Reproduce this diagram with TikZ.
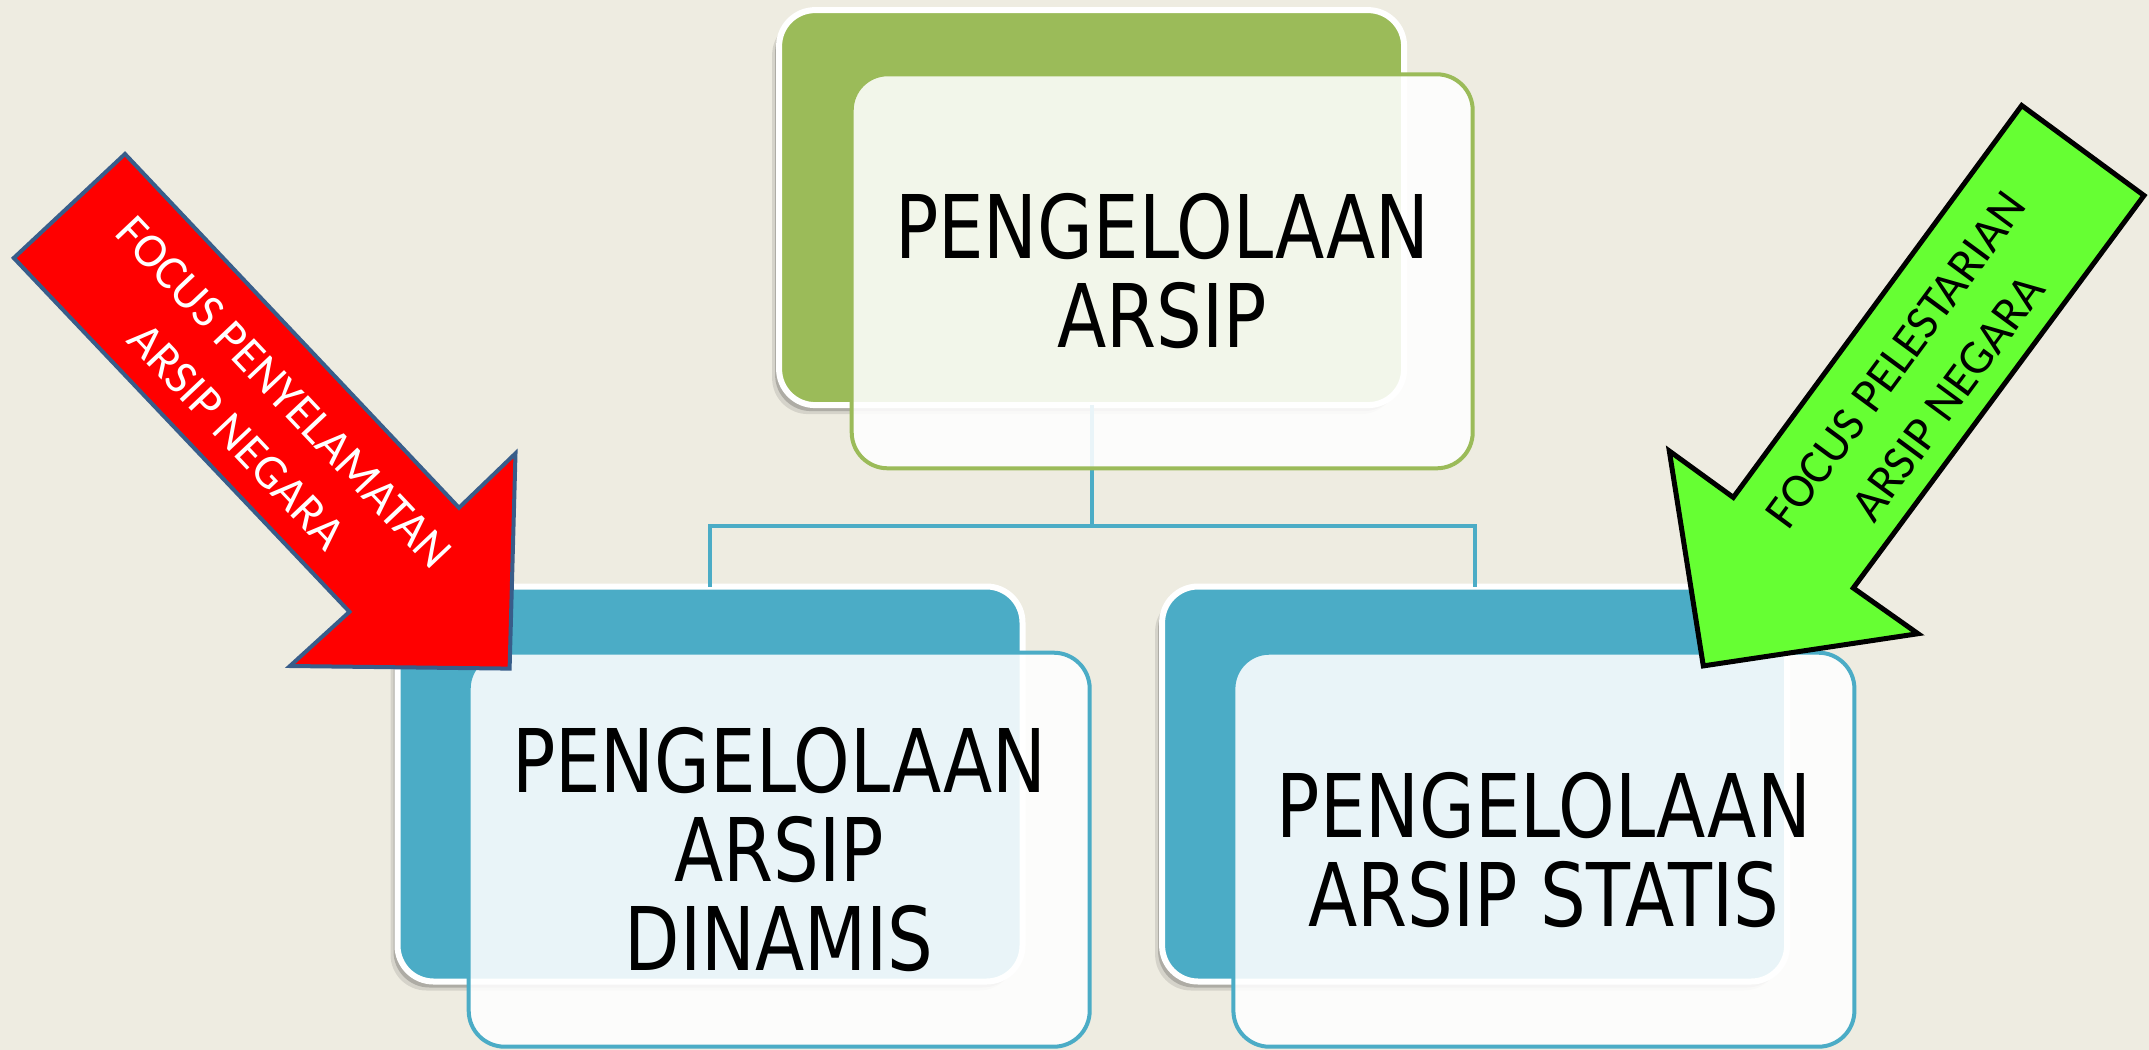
\documentclass[tikz,border=0pt]{standalone}
\usepackage{fontspec}
\usetikzlibrary{shadows}
\newfontfamily\boxfont[FakeStretch=0.82]{DejaVu Sans}
\newfontfamily\arrowfont{Carlito}
\definecolor{bg}{HTML}{EEECE1}
\definecolor{accgreen}{HTML}{9BBB59}
\definecolor{accblue}{HTML}{4BACC6}
\definecolor{redline}{HTML}{385D8A}
\definecolor{arrowgreen}{HTML}{66FF33}
\definecolor{arrowred}{HTML}{FF0000}
\begin{document}
\begin{tikzpicture}[x=0.5pt,y=-0.5pt,
  backbox/.style={rectangle, rounded corners=18pt, draw=white, line width=3pt,
    minimum width=312.5pt, minimum height=197.5pt, inner sep=0pt, outer sep=0pt,
    drop shadow={shadow xshift=-3.5pt, shadow yshift=-4.5pt, opacity=0.10, fill=black},
    drop shadow={shadow xshift=-2pt, shadow yshift=-3pt, opacity=0.18, fill=black}},
  frontbox/.style={rectangle, rounded corners=18pt, line width=2pt, fill=white,
    fill opacity=0.88, text opacity=1, minimum width=310.5pt, minimum height=197pt,
    inner sep=0pt, outer sep=0pt, align=center,
    font=\boxfont\fontsize{43.9}{44.5}\selectfont},
  conn/.style={draw=accblue, line width=2pt},
  arrowtext/.style={align=center, inner sep=0pt,
    font=\arrowfont\fontsize{24.2}{32.2}\selectfont}]
\useasboundingbox (0,0) rectangle (2149,1050);
\fill[bg] (0,0) rectangle (2149,1050);

% back boxes
\node[backbox, fill=accgreen] (topback) at (1091.6,207.6) {};
\node[backbox, fill=accblue] (blback) at (710,784) {};
\node[backbox, fill=accblue] (brback) at (1474.6,784) {};

% connectors
\coordinate (bus) at (1091.6,526);
\draw[conn] (topback.south) -- (bus);
\draw[conn] (blback.north) |- (bus) -| (brback.north);

% front boxes
\node[frontbox, draw=accgreen] (topfront) at (1162.2,271.3) {PENGELOLAAN\\ARSIP};
\node[frontbox, draw=accblue] (blfront) at (779.2,849.7) {PENGELOLAAN\\ARSIP\\DINAMIS};
\node[frontbox, draw=accblue] (brfront) at (1543.9,849.7) {PENGELOLAAN\\ARSIP STATIS};

% red arrow
\filldraw[fill=arrowred, draw=redline, line width=2pt, line join=miter]
  (125,154) -- (13.8,258) -- (349.5,611.8) -- (290,666) -- (509.6,668.6)
  -- (515.5,453.4) -- (459,507.8) -- cycle;
\node[arrowtext, text=white, rotate=-46.6] (redtext) at (260.4,414.5)
  {FOCUS PENYELAMATAN\\ARSIP NEGARA};

% green arrow
\filldraw[fill=arrowgreen, draw=black, line width=2.5pt, line join=miter]
  (2021.7,105.5) -- (2144,195.5) -- (1853.3,588) -- (1918,633.7) -- (1703.3,665.9)
  -- (1669.3,451) -- (1733.3,497.4) -- cycle;
\node[arrowtext, text=black, rotate=53.6] (greentext) at (1922,379)
  {FOCUS PELESTARIAN\\ARSIP NEGARA};
\end{tikzpicture}
\end{document}
